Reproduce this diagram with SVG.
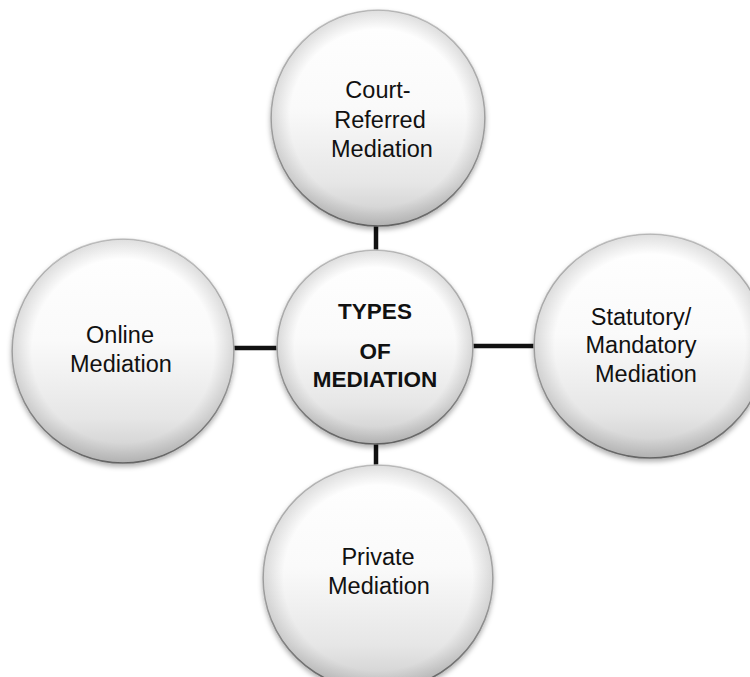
<svg xmlns="http://www.w3.org/2000/svg" width="750" height="677" viewBox="0 0 750 677">
<defs>
<linearGradient id="fillG" x1="0" y1="0" x2="0" y2="1">
<stop offset="0" stop-color="#ffffff"/>
<stop offset="0.45" stop-color="#fafafa"/>
<stop offset="0.8" stop-color="#e6e6e6"/>
<stop offset="1" stop-color="#cbcbcb"/>
</linearGradient>
<radialGradient id="edgeG" cx="0.5" cy="0.5" r="0.5">
<stop offset="0.82" stop-color="#000" stop-opacity="0"/>
<stop offset="1" stop-color="#000" stop-opacity="0.13"/>
</radialGradient>
<linearGradient id="rimG" x1="0" y1="0" x2="0" y2="1">
<stop offset="0" stop-color="#c8c8c8"/>
<stop offset="0.6" stop-color="#a8a8a8"/>
<stop offset="1" stop-color="#6a6a6a"/>
</linearGradient>
<filter id="sh" x="-10%" y="-10%" width="120%" height="125%">
<feDropShadow dx="0" dy="3" stdDeviation="2.5" flood-color="#000" flood-opacity="0.3"/>
</filter>
</defs>
<style>
.disc{fill:url(#fillG);stroke:url(#rimG);stroke-width:1.6;filter:url(#sh)}
.edge{fill:url(#edgeG)}
.lbl{font-family:"Liberation Sans",Arial,sans-serif;font-size:23.5px;fill:#111;text-anchor:middle}
.bold{font-family:"Liberation Sans",Arial,sans-serif;font-size:22.5px;font-weight:bold;fill:#111;text-anchor:middle}
.conn{stroke:#111;stroke-width:4.5;fill:none}
</style>
<rect width="750" height="677" fill="#fff"/>
<g id="connectors">
<line class="conn" x1="376" y1="224" x2="376" y2="252"/>
<line class="conn" x1="232" y1="348" x2="278" y2="348"/>
<line class="conn" x1="471" y1="346" x2="536" y2="346"/>
<line class="conn" x1="376" y1="442" x2="376" y2="467"/>
</g>
<g id="court">
<ellipse class="disc" cx="378" cy="118" rx="107" ry="108"/>
<ellipse class="edge" cx="378" cy="118" rx="107" ry="108"/>
<text class="lbl" x="378" y="98">Court-</text>
<text class="lbl" x="380" y="128">Referred</text>
<text class="lbl" x="382" y="157">Mediation</text>
</g>
<g id="center">
<ellipse class="disc" cx="375" cy="347" rx="98" ry="97"/>
<ellipse class="edge" cx="375" cy="347" rx="98" ry="97"/>
<text class="bold" x="375" y="319">TYPES</text>
<text class="bold" x="375" y="359">OF</text>
<text class="bold" x="375" y="387">MEDIATION</text>
</g>
<g id="online">
<ellipse class="disc" cx="123" cy="351" rx="111" ry="112"/>
<ellipse class="edge" cx="123" cy="351" rx="111" ry="112"/>
<text class="lbl" x="120" y="343">Online</text>
<text class="lbl" x="121" y="372">Mediation</text>
</g>
<g id="statutory">
<ellipse class="disc" cx="650" cy="346" rx="116" ry="112"/>
<ellipse class="edge" cx="650" cy="346" rx="116" ry="112"/>
<text class="lbl" x="641" y="325">Statutory/</text>
<text class="lbl" x="641" y="353">Mandatory</text>
<text class="lbl" x="646" y="382">Mediation</text>
</g>
<g id="private">
<ellipse class="disc" cx="378" cy="578" rx="115" ry="113"/>
<ellipse class="edge" cx="378" cy="578" rx="115" ry="113"/>
<text class="lbl" x="378" y="565">Private</text>
<text class="lbl" x="379" y="594">Mediation</text>
</g>
</svg>
